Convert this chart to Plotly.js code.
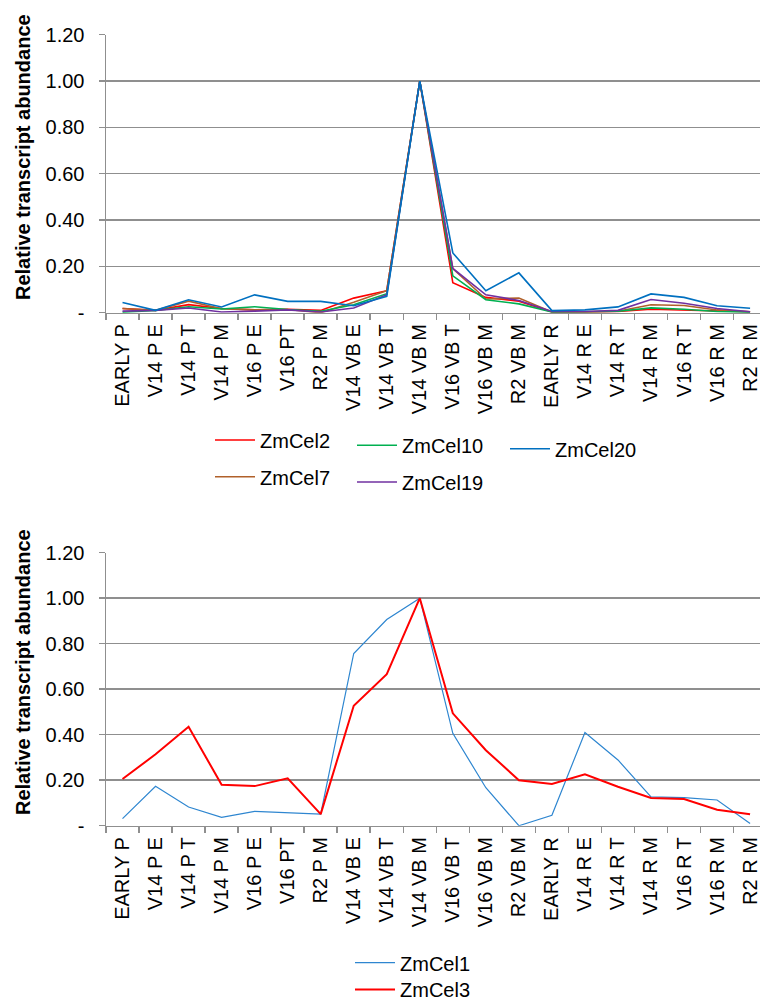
<!DOCTYPE html>
<html><head><meta charset="utf-8">
<script src="https://cdn.plot.ly/plotly-3.0.1.min.js"></script>
<style>html,body{margin:0;padding:0;background:#fff}#chart{width:760px;height:1001px}</style>
</head><body><div id="chart"></div>
<script>
const categories = ["EARLY P","V14 P E","V14 P T","V14 P M","V16 P E","V16 PT","R2 P M","V14 VB E","V14 VB T","V14 VB M","V16 VB T","V16 VB M","R2 VB M","EARLY R","V14 R E","V14 R T","V14 R M","V16 R T","V16 R M","R2 R M"];
const zmCel2  = [0.018,0.010,0.035,0.018,0.012,0.015,0.010,0.063,0.095,1.00,0.129,0.066,0.050,0.003,0.003,0.005,0.015,0.012,0.006,0.004];
const zmCel7  = [0.018,0.010,0.050,0.017,0.012,0.014,0.000,0.045,0.095,1.00,0.190,0.059,0.063,0.003,0.004,0.006,0.034,0.031,0.012,0.004];
const zmCel10 = [0.002,0.010,0.026,0.016,0.026,0.014,0.006,0.034,0.082,1.00,0.159,0.056,0.038,0.003,0.004,0.006,0.021,0.015,0.005,0.002];
const zmCel19 = [0.007,0.010,0.020,0.003,0.007,0.012,0.003,0.020,0.078,1.00,0.191,0.077,0.053,0.005,0.005,0.010,0.057,0.041,0.018,0.004];
const zmCel20 = [0.044,0.010,0.056,0.025,0.077,0.049,0.049,0.030,0.071,1.00,0.258,0.095,0.172,0.009,0.012,0.025,0.081,0.066,0.030,0.019];
const zmCel1  = [0.031,0.173,0.082,0.037,0.063,0.056,0.051,0.757,0.906,1.00,0.406,0.167,0.000,0.046,0.410,0.289,0.127,0.123,0.113,0.010];
const zmCel3  = [0.205,0.314,0.435,0.180,0.174,0.208,0.051,0.527,0.666,1.00,0.494,0.332,0.200,0.183,0.226,0.171,0.122,0.117,0.070,0.050];
const yTickVals = [0,0.2,0.4,0.6,0.8,1.0,1.2];
const yTickText = ["-","0.20","0.40","0.60","0.80","1.00","1.20"];
const yTitle = "Relative transcript abundance";

const W = 760, H = 1001, L = 106;
const px = v => (v - L) / (W - L);
const py = v => 1 - v / H;
const FONT = "Liberation Sans, Arial, Helvetica, sans-serif";
const GRID = "#8f8f8f";

function tr(name, y, color, width, xa, ya, legend) {
  return {type: "scatter", mode: "lines", name: name, x: categories, y: y,
    xaxis: xa, yaxis: ya, legend: legend, showlegend: true,
    line: {color: color, width: width}, hoverinfo: "x+y+name"};
}
const data = [
  tr("ZmCel2",  zmCel2,  "#ff0000", 1.6, "x", "y", "legend"),
  tr("ZmCel7",  zmCel7,  "#b0602a", 1.6, "x", "y", "legend2"),
  tr("ZmCel10", zmCel10, "#00b050", 1.6, "x", "y", "legend3"),
  tr("ZmCel19", zmCel19, "#7030a0", 1.6, "x", "y", "legend4"),
  tr("ZmCel20", zmCel20, "#0070c0", 1.6, "x", "y", "legend5"),
  tr("ZmCel1",  zmCel1,  "#2e86d0", 1.2, "x2", "y2", "legend6"),
  tr("ZmCel3",  zmCel3,  "#ff0000", 2.0, "x2", "y2", "legend7")
];

function xax(anchor) {
  return {type: "category", anchor: anchor, domain: [0, 1], range: [-0.5, 19.3],
    tickson: "boundaries", ticks: "outside", ticklen: 6, tickwidth: 1.5, tickcolor: GRID,
    showline: true, linecolor: GRID, linewidth: 1.5, showgrid: false, zeroline: false,
    ticklabelstandoff: 2,
    tickangle: -90, tickfont: {family: FONT, size: 20, color: "#000"}, fixedrange: true};
}
function yax(anchor, top, bottom) {
  return {anchor: anchor, domain: [py(bottom), py(top)], range: [0, 1.2],
    tickmode: "array", tickvals: yTickVals, ticktext: yTickText,
    ticks: "outside", ticklen: 6, tickwidth: 1.5, tickcolor: GRID,
    showline: true, linecolor: GRID, linewidth: 1.5,
    showgrid: true, gridcolor: GRID, gridwidth: 1.5, zeroline: false,
    ticklabelstandoff: 10,
    tickfont: {family: FONT, size: 20, color: "#000"}, fixedrange: true};
}
function leg(xLine, yMid) {
  return {x: px(xLine - 5), y: py(yMid), xanchor: "left", yanchor: "middle",
    bgcolor: "rgba(0,0,0,0)", borderwidth: 0, itemwidth: 40, visible: true,
    font: {family: FONT, size: 20, color: "#000"}};
}
const layout = {
  width: W, height: H, margin: {l: L, r: 0, t: 0, b: 0, autoexpand: false},
  showlegend: true,
  paper_bgcolor: "#fff", plot_bgcolor: "#fff",
  font: {family: FONT, size: 20, color: "#000"},
  xaxis: xax("y"), yaxis: yax("x", 34.7, 312.7),
  xaxis2: xax("y2"), yaxis2: yax("x2", 552.7, 825.7),
  legend: leg(215, 440), legend2: leg(215, 476.7),
  legend3: leg(357, 445.3), legend4: leg(357, 482),
  legend5: leg(510, 448.7),
  legend6: leg(355, 962.7), legend7: leg(355, 989.5),
  annotations: [
    {text: "<b>" + yTitle + "</b>", textangle: -90, xref: "paper", yref: "paper",
     x: px(23), y: py(157), xanchor: "center", yanchor: "middle", showarrow: false,
     font: {family: FONT, size: 20, color: "#000"}},
    {text: "<b>" + yTitle + "</b>", textangle: -90, xref: "paper", yref: "paper",
     x: px(23), y: py(672), xanchor: "center", yanchor: "middle", showarrow: false,
     font: {family: FONT, size: 20, color: "#000"}}
  ]
};
Plotly.newPlot("chart", data, layout, {displayModeBar: false, staticPlot: true});
</script>
</body></html>
